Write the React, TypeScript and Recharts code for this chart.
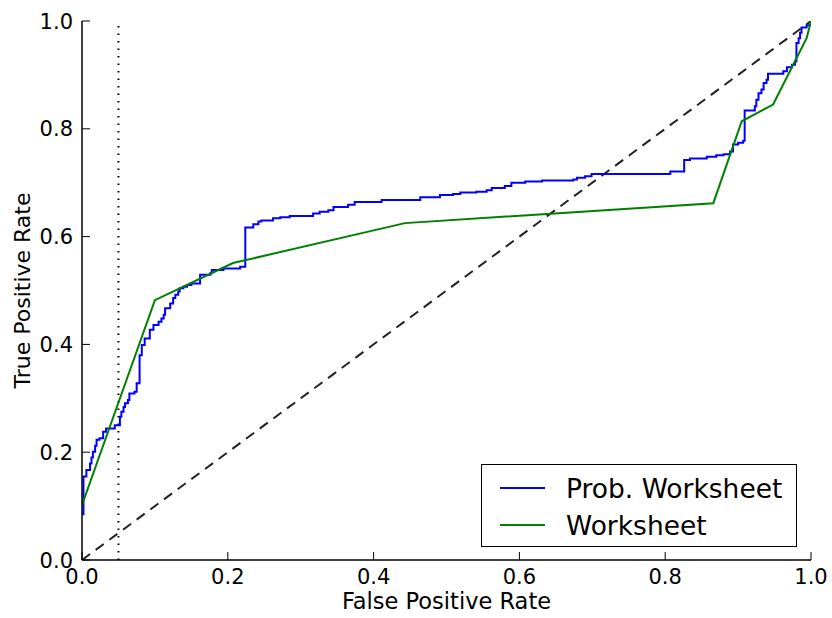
import { LineChart, Line, XAxis, YAxis, Legend, Label } from "recharts";

const FONT = "DejaVu Sans";

// ROC of the probabilistic worksheet (staircase)
const probFpr = [
  0, 0.002, 0.006, 0.011, 0.013, 0.015, 0.018, 0.02, 0.024, 0.029, 0.033, 0.045, 0.052, 0.054, 0.057,
  0.059, 0.063, 0.065, 0.072, 0.075, 0.079, 0.082, 0.086, 0.093, 0.098, 0.105, 0.109, 0.112, 0.114,
  0.121, 0.125, 0.128, 0.132, 0.134, 0.139, 0.144, 0.15, 0.162, 0.176, 0.178, 0.194, 0.217, 0.224,
  0.235, 0.242, 0.246, 0.262, 0.272, 0.285, 0.317, 0.326, 0.338, 0.345, 0.365, 0.374, 0.411, 0.464,
  0.491, 0.509, 0.519, 0.541, 0.555, 0.562, 0.58, 0.589, 0.608, 0.631, 0.674, 0.679, 0.69, 0.699,
  0.807, 0.826, 0.834, 0.857, 0.87, 0.88, 0.889, 0.893, 0.9, 0.907, 0.909, 0.923, 0.925, 0.928,
  0.932, 0.935, 0.939, 0.941, 0.962, 0.967, 0.974, 0.978, 0.98, 0.983, 0.985, 0.987, 0.994, 1,
];
const probTpr = [
  0.085, 0.155, 0.167, 0.179, 0.19, 0.201, 0.212, 0.223, 0.226, 0.238, 0.244, 0.25, 0.266, 0.275, 0.284,
  0.291, 0.297, 0.309, 0.312, 0.328, 0.38, 0.399, 0.411, 0.427, 0.436, 0.442, 0.448, 0.455, 0.467,
  0.476, 0.486, 0.492, 0.498, 0.504, 0.507, 0.51, 0.513, 0.529, 0.532, 0.538, 0.541, 0.544, 0.617,
  0.623, 0.628, 0.63, 0.634, 0.636, 0.638, 0.643, 0.646, 0.649, 0.655, 0.659, 0.664, 0.668, 0.673,
  0.677, 0.679, 0.682, 0.683, 0.686, 0.69, 0.694, 0.7, 0.702, 0.704, 0.706, 0.709, 0.712, 0.716,
  0.721, 0.742, 0.745, 0.748, 0.751, 0.753, 0.758, 0.771, 0.774, 0.778, 0.834, 0.842, 0.854, 0.866,
  0.873, 0.885, 0.891, 0.902, 0.907, 0.914, 0.919, 0.925, 0.959, 0.968, 0.978, 0.988, 0.992, 1,
];

// ROC of the plain worksheet
const sheetFpr = [0, 0.1, 0.207, 0.443, 0.866, 0.905, 0.948, 0.994, 1];
const sheetTpr = [0.102, 0.482, 0.551, 0.625, 0.662, 0.814, 0.845, 0.968, 1];

const chanceFpr = [0, 1];
const chanceTpr = [0, 1];
const thresholdFpr = 0.05;

const ticks = [0, 0.2, 0.4, 0.6, 0.8, 1];

const probData = probFpr.map((x, i) => ({ x, y: probTpr[i] }));
const sheetData = sheetFpr.map((x, i) => ({ x, y: sheetTpr[i] }));
const chanceData = chanceFpr.map((x, i) => ({ x, y: chanceTpr[i] }));
const thresholdData = [{ x: thresholdFpr, y: 0 }, { x: thresholdFpr, y: 1 }];

const TICK_GAP = 9;
const TICK_LEN = 8;
const fmt = (v: number) => v.toFixed(1);

const BottomTick = ({ x, y, payload }: any) => {
  const base = y - TICK_GAP;
  return (
    <g>
      <line x1={x} x2={x} y1={base} y2={base - TICK_LEN} stroke="#000" strokeWidth={1} />
      <text x={x} y={y} dy="0.73em" textAnchor="middle" fontFamily={FONT} fontSize={21} fill="#000">
        {fmt(payload.value)}
      </text>
    </g>
  );
};

const LeftTick = ({ x, y, payload }: any) => {
  const base = x + TICK_GAP;
  return (
    <g>
      <line x1={base} x2={base + TICK_LEN} y1={y} y2={y} stroke="#000" strokeWidth={1} />
      <text x={x} y={y} dy="0.36em" textAnchor="end" fontFamily={FONT} fontSize={21} fill="#000">
        {fmt(payload.value)}
      </text>
    </g>
  );
};

const TopTick = ({ x, y }: any) => {
  const base = y + TICK_GAP;
  return <line x1={x} x2={x} y1={base} y2={base + TICK_LEN} stroke="#000" strokeWidth={1} />;
};

const RightTick = ({ x, y }: any) => {
  const base = x - TICK_GAP;
  return <line x1={base} x2={base - TICK_LEN} y1={y} y2={y} stroke="#000" strokeWidth={1} />;
};

const LegendBox = ({ payload }: any) => {
  const items = (payload || []).filter((p: any) => p.type !== "none");
  return (
    <div style={{ width: 316, height: 83, border: "1.5px solid #000", background: "#fff", boxSizing: "border-box" }}>
      <svg width={313} height={80}>
        {items.map((p: any, i: number) => {
          const cy = 23 + i * 37;
          return (
            <g key={p.value}>
              <line x1={18} x2={63} y1={cy} y2={cy} stroke={p.color} strokeWidth={2} />
              <text x={84} y={cy} dy="0.36em" fontFamily={FONT} fontSize={26.5} fill="#000">
                {p.value}
              </text>
            </g>
          );
        })}
      </svg>
    </div>
  );
};

export default function App() {
  return (
    <div style={{ position: "absolute", left: 0, top: 0, background: "#fff" }}>
      <LineChart width={832} height={618} margin={{ top: 21, right: 21, bottom: 0, left: 0 }}>
        <XAxis
          xAxisId="b"
          type="number"
          dataKey="x"
          domain={[0, 1]}
          ticks={ticks}
          height={58}
          tickSize={0}
          tickMargin={TICK_GAP}
          tick={<BottomTick />}
          axisLine={{ stroke: "#000", strokeWidth: 1.5 }}
          allowDataOverflow
        >
          <Label
            content={({ viewBox }: any) => (
              <text
                x={viewBox.x + viewBox.width / 2}
                y={viewBox.y + viewBox.height - 9}
                textAnchor="middle"
                fontFamily={FONT}
                fontSize={22.5}
                fill="#000"
              >
                False Positive Rate
              </text>
            )}
          />
        </XAxis>
        <XAxis
          xAxisId="t"
          orientation="top"
          type="number"
          dataKey="x"
          domain={[0, 1]}
          ticks={ticks}
          height={0}
          tickSize={0}
          tickMargin={TICK_GAP}
          tick={<TopTick />}
          axisLine={{ stroke: "#000", strokeWidth: 1.5 }}
          allowDataOverflow
        />
        <YAxis
          yAxisId="l"
          type="number"
          domain={[0, 1]}
          ticks={ticks}
          width={82}
          tickSize={0}
          tickMargin={TICK_GAP}
          tick={<LeftTick />}
          axisLine={{ stroke: "#000", strokeWidth: 1.5 }}
          allowDataOverflow
        >
          <Label
            content={({ viewBox }: any) => {
              const cx = viewBox.x + 22;
              const cy = viewBox.y + viewBox.height / 2;
              return (
                <text
                  x={cx}
                  y={cy}
                  transform={`rotate(-90 ${cx} ${cy})`}
                  textAnchor="middle"
                  dy="0.36em"
                  fontFamily={FONT}
                  fontSize={22}
                  fill="#000"
                >
                  True Positive Rate
                </text>
              );
            }}
          />
        </YAxis>
        <YAxis
          yAxisId="r"
          orientation="right"
          type="number"
          domain={[0, 1]}
          ticks={ticks}
          width={0}
          tickSize={0}
          tickMargin={TICK_GAP}
          tick={<RightTick />}
          axisLine={{ stroke: "#000", strokeWidth: 1.5 }}
          allowDataOverflow
        />
        <Line
          xAxisId="b"
          yAxisId="l"
          data={thresholdData}
          dataKey="y"
          stroke="#000"
          strokeWidth={2}
          strokeDasharray="1.5 6"
          dot={false}
          legendType="none"
          isAnimationActive={false}
        />
        <Line
          xAxisId="b"
          yAxisId="l"
          data={chanceData}
          dataKey="y"
          stroke="#222"
          strokeWidth={2}
          strokeDasharray="10 7"
          dot={false}
          legendType="none"
          isAnimationActive={false}
        />
        <Line
          xAxisId="b"
          yAxisId="l"
          data={probData}
          dataKey="y"
          name="Prob. Worksheet"
          type="stepAfter"
          stroke="#0000ff"
          strokeWidth={2}
          dot={false}
          isAnimationActive={false}
        />
        <Line
          xAxisId="b"
          yAxisId="l"
          data={sheetData}
          dataKey="y"
          name="Worksheet"
          stroke="#008000"
          strokeWidth={2}
          dot={false}
          isAnimationActive={false}
        />
        <Legend
          layout="vertical"
          align="center"
          verticalAlign="middle"
          content={<LegendBox />}
          wrapperStyle={{ left: 481, top: 464, width: 316, height: 83 }}
        />
      </LineChart>
    </div>
  );
}
